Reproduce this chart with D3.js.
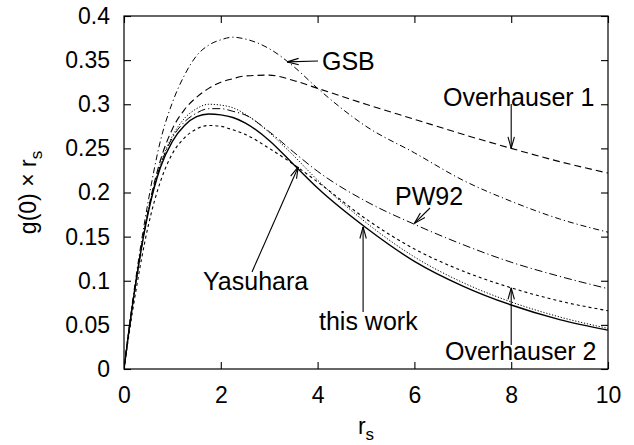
<!DOCTYPE html>
<html><head><meta charset="utf-8">
<script src="https://cdn.jsdelivr.net/npm/d3@7/dist/d3.min.js"></script>
<style>body{margin:0;background:#fff}svg{display:block}text{font-family:"Liberation Sans",Arial,sans-serif;fill:#000}</style>
</head><body>
<svg id="c" width="634" height="445"></svg>
<script>
// ---- data ----
const rsGrid      = [0, 0.1, 0.25, 0.5, 0.75, 1, 1.25, 1.5, 1.75, 2, 2.25, 2.5, 3, 3.5, 4, 5, 6, 7, 8, 9, 10];
const thisWork    = [0, 0.042, 0.100, 0.177, 0.228, 0.258, 0.276, 0.286, 0.289, 0.288, 0.285, 0.279, 0.259, 0.232, 0.205, 0.160, 0.122, 0.094, 0.0725, 0.056, 0.044];
const yasuhara    = [0, 0.043, 0.100, 0.179, 0.232, 0.264, 0.284, 0.295, 0.300, 0.299, 0.296, 0.289, 0.268, 0.242, 0.214, 0.166, 0.127, 0.098, 0.076, 0.059, 0.046];
const pw92        = [0, 0.043, 0.100, 0.178, 0.230, 0.262, 0.280, 0.290, 0.295, 0.295, 0.292, 0.288, 0.269, 0.246, 0.224, 0.190, 0.164, 0.141, 0.121, 0.105, 0.091];
const overhauser2 = [0, 0.038, 0.090, 0.162, 0.212, 0.244, 0.262, 0.272, 0.276, 0.275, 0.271, 0.266, 0.250, 0.232, 0.212, 0.170, 0.136, 0.111, 0.092, 0.077, 0.066];
const overhauser1 = [0, 0.043, 0.100, 0.180, 0.236, 0.272, 0.294, 0.308, 0.318, 0.325, 0.329, 0.332, 0.333, 0.327, 0.318, 0.300, 0.283, 0.266, 0.250, 0.235, 0.222];
const gsb         = [0, 0.045, 0.105, 0.190, 0.258, 0.302, 0.333, 0.355, 0.367, 0.373, 0.376, 0.374, 0.363, 0.343, 0.318, 0.275, 0.245, 0.214, 0.190, 0.170, 0.155];
const xTicks = [0, 2, 4, 6, 8, 10];
const yTicks = [0, 0.05, 0.1, 0.15, 0.2, 0.25, 0.3, 0.35, 0.4];
const yTickLabels = ["0", "0.05", "0.1", "0.15", "0.2", "0.25", "0.3", "0.35", "0.4"];
// annotations: label, anchor point on curve (data coords)
const labels = ["GSB", "Overhauser 1", "PW92", "Yasuhara", "this work", "Overhauser 2"];
const labelTips = [[3.37, 0.348], [8, 0.250], [6.0, 0.165], [3.6, 0.229], [4.94, 0.161], [8, 0.092]];

// ---- layout ----
const L = 124, R = 608, T = 16, B = 369;
const x = d3.scaleLinear().domain([0, 10]).range([L, R]);
const y = d3.scaleLinear().domain([0, 0.4]).range([B, T]);
const svg = d3.select("#c");

const series = [
  {v: overhauser1, dash: "7,4", w: 1.1},
  {v: gsb, dash: "6,3,1.2,3", w: 1.0},
  {v: pw92, dash: "8,3,1.2,3", w: 1.0},
  {v: overhauser2, dash: "3,3", w: 1.1},
  {v: yasuhara, dash: "1.2,1.8", w: 1.0},
  {v: thisWork, dash: null, w: 1.4}
];
const line = d3.line().x(d => x(d[0])).y(d => y(d[1])).curve(d3.curveMonotoneX);
svg.append("clipPath").attr("id", "pc").append("rect")
  .attr("x", L).attr("y", T).attr("width", R - L).attr("height", B - T);
series.forEach(s => {
  svg.append("path").datum(rsGrid.map((r, i) => [r, s.v[i]]))
    .attr("d", line).attr("fill", "none").attr("stroke", "#000")
    .attr("stroke-width", s.w).attr("stroke-dasharray", s.dash)
    .attr("clip-path", "url(#pc)");
});

// frame and ticks
svg.append("rect").attr("x", L).attr("y", T).attr("width", R - L).attr("height", B - T)
  .attr("fill", "none").attr("stroke", "#000").attr("stroke-width", 1.2);
const tl = 7;
const fs = 23;
const xb = d3.axisBottom(x).tickValues(xTicks).tickSize(-tl).tickPadding(18).tickFormat(d3.format("d"));
const xt = d3.axisTop(x).tickValues(xTicks).tickSize(-tl).tickFormat("");
const yl = d3.axisLeft(y).tickValues(yTicks).tickSize(-tl).tickPadding(14).tickFormat((d, i) => yTickLabels[i]);
const yr = d3.axisRight(y).tickValues(yTicks).tickSize(-tl).tickFormat("");
[[xb, `translate(0,${B})`], [xt, `translate(0,${T})`], [yl, `translate(${L},0)`], [yr, `translate(${R},0)`]].forEach(([ax, tr]) => {
  const g = svg.append("g").attr("transform", tr).call(ax);
  g.select(".domain").remove();
  g.selectAll("line").attr("stroke", "#000").attr("stroke-width", 1.1);
  g.selectAll("text").style("font-size", fs + "px").attr("font-family", "Liberation Sans, Arial, sans-serif").attr("fill", "#000");
});

// axis titles
const xt1 = svg.append("text").attr("x", x(5)).attr("y", 434).attr("text-anchor", "middle").style("font-size", "23px");
xt1.append("tspan").text("r");
xt1.append("tspan").attr("dy", 6).style("font-size", "17px").text("s");
const yt = svg.append("text").attr("transform", `translate(36,${(T + B) / 2}) rotate(-90)`).attr("text-anchor", "middle").style("font-size", "23px");
yt.append("tspan").text("g(0) \u00d7 r");
yt.append("tspan").attr("dy", 6).style("font-size", "17px").text("s");

// annotations
function arrow(x1, y1, x2, y2) {
  svg.append("line").attr("x1", x1).attr("y1", y1).attr("x2", x2).attr("y2", y2).attr("stroke", "#000").attr("stroke-width", 1.1);
  const a = Math.atan2(y2 - y1, x2 - x1), len = 12, ang = 0.27;
  [a + Math.PI - ang, a + Math.PI + ang].forEach(t => {
    svg.append("line").attr("x1", x2).attr("y1", y2)
      .attr("x2", x2 + len * Math.cos(t)).attr("y2", y2 + len * Math.sin(t))
      .attr("stroke", "#000").attr("stroke-width", 1.1);
  });
}
const afs = "25px";
// GSB
svg.append("text").attr("x", 322).attr("y", 70).style("font-size", afs).text(labels[0]);
arrow(318, 61, x(labelTips[0][0]), y(labelTips[0][1]));
// Overhauser 1
svg.append("text").attr("x", 443).attr("y", 106).style("font-size", afs).text(labels[1]);
arrow(x(labelTips[1][0]), 104, x(labelTips[1][0]), y(labelTips[1][1]));
// PW92
svg.append("text").attr("x", 395).attr("y", 205).style("font-size", afs).text(labels[2]);
arrow(430, 208, x(labelTips[2][0]), y(labelTips[2][1]));
// Yasuhara
svg.append("text").attr("x", 203).attr("y", 290).style("font-size", afs).text(labels[3]);
arrow(252, 272, x(labelTips[3][0]), y(labelTips[3][1]));
// this work
svg.append("text").attr("x", 319).attr("y", 330).style("font-size", afs).text(labels[4]);
arrow(x(labelTips[4][0]), 312, x(labelTips[4][0]), y(labelTips[4][1]));
// Overhauser 2
svg.append("text").attr("x", 445).attr("y", 360).style("font-size", afs).text(labels[5]);
arrow(x(labelTips[5][0]), 345, x(labelTips[5][0]), y(labelTips[5][1]));
</script>
</body></html>
